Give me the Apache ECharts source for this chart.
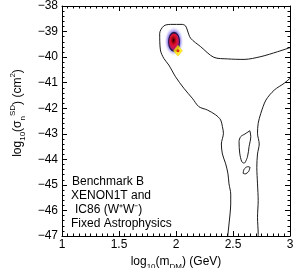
<!DOCTYPE html>
<html><head><meta charset="utf-8">
<script src="https://cdn.jsdelivr.net/npm/echarts@6/dist/echarts.min.js"></script>
<style>html,body{margin:0;padding:0;background:#fff}#c{width:299px;height:268px}</style>
</head><body><div id="c"></div>
<script>
// ---- data ----
const xTicks = [1, 1.5, 2, 2.5, 3];
const yTicks = [-47, -46, -45, -44, -43, -42, -41, -40, -39, -38];
// outer contour, left/top branch (x = log10 mDM, y = log10 sigma)
const contourOuterA = [
  [3.0,-39.63],[2.89,-39.79],[2.745,-39.98],[2.597,-40.09],[2.451,-40.07],[2.333,-40.01],
  [2.216,-39.59],[2.128,-39.26],[2.099,-38.94],[2.084,-38.78],[2.055,-38.72],[1.952,-38.72],
  [1.893,-38.78],[1.857,-39.07],[1.863,-39.72],[1.893,-40.05],[1.937,-40.31],[1.996,-40.77],
  [2.069,-41.22],[2.143,-41.61],[2.201,-41.94],[2.275,-42.07],[2.348,-42.26],[2.392,-42.46],
  [2.407,-42.72],[2.416,-42.98],[2.398,-43.40],[2.407,-43.79],[2.436,-44.18],[2.456,-44.57],
  [2.465,-44.96],[2.480,-45.36],[2.480,-45.75],[2.474,-46.14],[2.465,-46.53],[2.456,-46.92],[2.454,-47.0]
];
// outer contour, right branch
const contourOuterB = [
  [3.0,-40.83],[2.950,-41.02],[2.862,-41.29],[2.789,-41.68],[2.744,-42.20],[2.721,-42.59],
  [2.715,-42.98],[2.730,-43.40],[2.715,-43.79],[2.709,-44.31],[2.715,-44.96],[2.721,-45.62],
  [2.715,-46.27],[2.721,-46.92],[2.721,-47.0]
];
// inner island contours
const contourIslandC = [
  [2.648,-42.88],[2.656,-43.11],[2.641,-43.50],[2.627,-43.90],[2.597,-44.15],[2.577,-44.09],
  [2.559,-43.76],[2.553,-43.31],[2.568,-43.11],[2.604,-43.01],[2.648,-42.88]
];
const contourIslandD = [
  [2.589,-44.55],[2.597,-44.39],[2.627,-44.29],[2.648,-44.31],[2.636,-44.48],[2.606,-44.57],[2.589,-44.55]
];
// posterior blob: [centre x, centre y, half-width x, half-height y]
const blobHalo = [[1.982, -39.38, 0.085, 0.58]];
const blobCore = [[1.983, -39.40, 0.048, 0.36]];
// benchmark point
const benchmark = [[2.017, -39.75]];
const noteLines = ['Benchmark B', 'XENON1T and', 'IC86 (W\u207aW\u207b)', 'Fixed Astrophysics'];

const FONT = "'Liberation Sans', Arial, Helvetica, sans-serif";
const chart = echarts.init(document.getElementById('c'), null, {renderer: 'canvas'});

function ellipseItem(fill, stroke) {
  return function (params, api) {
    const c = api.coord([api.value(0), api.value(1)]);
    const e = api.coord([api.value(0) + api.value(2), api.value(1) + api.value(3)]);
    const rx = Math.abs(e[0] - c[0]), ry = Math.abs(e[1] - c[1]);
    return {
      type: 'circle', x: c[0], y: c[1], scaleX: 1, scaleY: ry / rx,
      shape: {cx: 0, cy: 0, r: rx},
      style: {fill: fill, stroke: stroke || null, lineWidth: stroke ? 1 : 0, strokeNoScale: true}
    };
  };
}

const minus = v => (v < 0 ? '\u2212' : '') + Math.abs(v);
const tickCommon = {inside: true, length: 5, lineStyle: {color: '#000', width: 1}};
const minorCommon = {show: true, length: 2.5, lineStyle: {color: '#000', width: 1}};
const lineCommon = {show: true, onZero: false, lineStyle: {color: '#000', width: 1}};

const contourSeries = (d) => ({
  type: 'line', data: d, showSymbol: false, smooth: 0.3, silent: true,
  lineStyle: {color: '#000', width: 0.9}, z: 4, animation: false
});

chart.setOption({
  animation: false,
  grid: {left: 62, right: 9, top: 6, bottom: 32, containLabel: false, outerBoundsMode: 'none'},
  xAxis: [{
    type: 'value', min: 1, max: 3, interval: 0.5, position: 'bottom',
    axisLine: lineCommon, axisTick: tickCommon, minorTick: Object.assign({splitNumber: 10}, minorCommon),
    splitLine: {show: false},
    axisLabel: {color: '#000', fontSize: 12, fontFamily: FONT, margin: 3, formatter: v => String(v)},
    name: '{t|log}{s|10}{t|(m}{s|DM}{t|) (GeV)}', nameLocation: 'middle', nameGap: 14,
    nameTextStyle: {rich: {
      t: {fontSize: 12, fontFamily: FONT, color: '#000', lineHeight: 18, verticalAlign: 'middle'},
      s: {fontSize: 8, fontFamily: FONT, color: '#000', lineHeight: 8, verticalAlign: 'bottom'}
    }}
  }, {
    type: 'value', min: 1, max: 3, interval: 0.5, position: 'top',
    axisLine: lineCommon, axisTick: tickCommon, minorTick: Object.assign({splitNumber: 10}, minorCommon),
    splitLine: {show: false}, axisLabel: {show: false}
  }],
  yAxis: [{
    type: 'value', min: -47, max: -38, interval: 1, position: 'left',
    axisLine: lineCommon, axisTick: tickCommon, minorTick: Object.assign({splitNumber: 5}, minorCommon),
    splitLine: {show: false},
    axisLabel: {color: '#000', fontSize: 12, fontFamily: FONT, margin: 4, formatter: minus},
    name: '{t|log}{s|10}{t|(σ}{s|n}{p|SD}{t|) (cm}{p|2}{t|)}', nameLocation: 'middle', nameGap: 29,
    nameTextStyle: {padding: [0, 0, 0, 16], rich: {
      t: {fontSize: 12, fontFamily: FONT, color: '#000', lineHeight: 18, verticalAlign: 'middle'},
      s: {fontSize: 8, fontFamily: FONT, color: '#000', lineHeight: 8, verticalAlign: 'bottom'},
      p: {fontSize: 8, fontFamily: FONT, color: '#000', lineHeight: 8, verticalAlign: 'top'}
    }}
  }, {
    type: 'value', min: -47, max: -38, interval: 1, position: 'right',
    axisLine: lineCommon, axisTick: tickCommon, minorTick: Object.assign({splitNumber: 5}, minorCommon),
    splitLine: {show: false}, axisLabel: {show: false}
  }],
  series: [
    {type: 'custom', data: blobHalo, z: 2, silent: true, clip: true,
      renderItem: ellipseItem({type: 'radial', x: 0.5, y: 0.5, r: 0.5, colorStops: [
        {offset: 0, color: '#5a46d0'}, {offset: 0.55, color: '#7a6ae0'},
        {offset: 0.75, color: '#c4bcf6'}, {offset: 1, color: 'rgba(245,243,255,0)'}]})},
    {type: 'custom', data: blobCore, z: 3, silent: true, clip: true,
      renderItem: ellipseItem({type: 'radial', x: 0.45, y: 0.42, r: 0.6, colorStops: [
        {offset: 0, color: '#1a0000'}, {offset: 0.18, color: '#8a0010'},
        {offset: 0.42, color: '#e0102a'}, {offset: 0.7, color: '#c0186a'},
        {offset: 0.9, color: '#6a2aa8'}, {offset: 1, color: '#5030b0'}]}, '#22164a')},
    contourSeries(contourOuterA),
    contourSeries(contourOuterB),
    contourSeries(contourIslandC),
    contourSeries(contourIslandD),
    {type: 'scatter', data: benchmark, symbol: 'diamond', symbolSize: [9, 11], z: 6, silent: true,
      itemStyle: {color: '#ffea00', borderColor: '#f0c000', borderWidth: 0.5}},
    {type: 'scatter', data: benchmark, symbol: 'circle', symbolSize: 3, z: 7, silent: true,
      itemStyle: {color: '#e00000'}}
  ],
  graphic: noteLines.map((t, i) => ({
    type: 'text', left: [72, 71, 75, 71][i], top: 176 + i * 14, z: 10, silent: true,
    style: {text: t, fontSize: 12, fontFamily: FONT, fill: '#000'}
  }))
});
</script></body></html>
